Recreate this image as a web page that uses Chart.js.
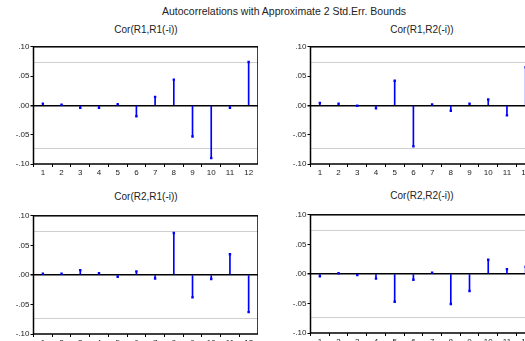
<!DOCTYPE html>
<html>
<head>
<meta charset="utf-8">
<script src="https://cdn.jsdelivr.net/npm/chart.js@4"></script>
<style>
  html, body { margin:0; padding:0; background:#fff; overflow:hidden; }
  body { width:525px; height:341px; position:relative; }
  .txt {
    position:absolute; text-align:center; white-space:nowrap;
    font:10px "Liberation Sans", Arial, sans-serif; color:#222;
  }
  .panel { position:absolute; }
</style>
</head>
<body>
<div class="txt" style="left:134px;top:5px;width:300px;font-size:10.5px">Autocorrelations with Approximate 2 Std.Err. Bounds</div>
<div class="txt" style="left:96px;top:24px;width:100px">Cor(R1,R1(-i))</div>
<div class="txt" style="left:372px;top:24px;width:100px">Cor(R1,R2(-i))</div>
<div class="txt" style="left:96px;top:191px;width:100px">Cor(R2,R1(-i))</div>
<div class="txt" style="left:372px;top:190px;width:100px">Cor(R2,R2(-i))</div>

<div class="panel" style="left:0;top:41px;width:258px;height:137px"><canvas id="c11"></canvas></div>
<div class="panel" style="left:277px;top:41px;width:258px;height:137px"><canvas id="c12"></canvas></div>
<div class="panel" style="left:0;top:210px;width:258px;height:138px"><canvas id="c21"></canvas></div>
<div class="panel" style="left:277px;top:209px;width:258px;height:138px"><canvas id="c22"></canvas></div>

<script>
// lags
const lags = ["1","2","3","4","5","6","7","8","9","10","11","12"];

// cross correlations
const corR1R1 = [0.003, 0.001, -0.004, -0.004, 0.002, -0.0185, 0.0145, 0.044, -0.053, -0.090, -0.004, 0.074];
const corR1R2 = [0.004, 0.003, -0.0005, -0.005, 0.042, -0.070, 0.0015, -0.009, 0.003, 0.010, -0.017, 0.065];
const corR2R1 = [0.002, 0.002, 0.008, 0.003, -0.003, 0.006, -0.006, 0.071, -0.038, -0.007, 0.035, -0.063];
const corR2R2 = [-0.004, 0.001, -0.002, -0.008, -0.047, -0.010, 0.002, -0.051, -0.029, 0.024, 0.008, 0.012];

// +/- 2 std.err. bound
const bound = 0.073;

const FONT = "'Liberation Sans', Arial, sans-serif";

// box round the plot area
const framePlugin = {
  id:'frame',
  afterDraw(chart){
    const a = chart.chartArea, c = chart.ctx;
    c.save();
    c.strokeStyle = '#000';
    c.lineWidth = 1.5;
    c.strokeRect(a.left, a.top, a.right - a.left, a.bottom - a.top);
    c.restore();
  }
};

function fmt(v){
  let s = Math.abs(v).toFixed(2).replace(/^0/, '');
  return (v < -1e-9 ? '-' : '') + s;
}

function isBound(v){ return Math.abs(Math.abs(v) - bound) < 1e-6; }

function makeChart(id, values){
  return new Chart(document.getElementById(id), {
    data:{
      labels: lags,
      datasets:[
        {
          type:'bar',
          data: values,
          backgroundColor:'#0000ff',
          borderWidth:0,
          barThickness:1
        },
        {
          type:'line',
          data: values,
          showLine:false,
          pointStyle:'rect',
          pointRadius:1.7,
          pointBackgroundColor:'#0000ff',
          pointBorderColor:'#0000ff',
          pointBorderWidth:0
        }
      ]
    },
    options:{
      responsive:true,
      maintainAspectRatio:false,
      animation:false,
      devicePixelRatio:1,
      layout:{ autoPadding:false, padding:0 },
      plugins:{
        legend:{ display:false },
        tooltip:{ enabled:false },
        title:{ display:false }
      },
      scales:{
        x:{
          type:'category',
          offset:true,
          grid:{
            offset:true,
            drawOnChartArea:false,
            drawTicks:true,
            tickLength:3,
            tickColor:'#000',
            lineWidth:1
          },
          border:{ display:false },
          ticks:{
            color:'#222',
            font:{ family:FONT, size:8 },
            padding:1,
            maxRotation:0,
            autoSkip:false
          },
          afterFit(s){ s.height = 14; }
        },
        y:{
          min:-0.1,
          max:0.1,
          afterBuildTicks(s){
            s.ticks = [-0.1, -bound, -0.05, 0, 0.05, bound, 0.1].map(v => ({value:v}));
          },
          grid:{
            drawTicks:true,
            tickLength:3,
            tickColor(ctx){
              const v = ctx.tick ? ctx.tick.value : 0;
              return isBound(v) ? 'rgba(0,0,0,0)' : '#000';
            },
            color(ctx){
              const v = ctx.tick ? ctx.tick.value : 0;
              if (Math.abs(v) < 1e-9) return '#000';
              if (isBound(v)) return '#cfcfcf';
              return 'rgba(0,0,0,0)';
            },
            lineWidth(ctx){
              const v = ctx.tick ? ctx.tick.value : 0;
              return Math.abs(v) < 1e-9 ? 1.5 : 1;
            }
          },
          border:{ display:false },
          ticks:{
            color:'#222',
            font:{ family:FONT, size:8 },
            padding:1,
            callback(v){
              return isBound(v) ? '' : fmt(v);
            }
          },
          afterFit(s){ s.width = 33.5; }
        }
      }
    },
    plugins:[framePlugin]
  });
}

makeChart('c11', corR1R1);
makeChart('c12', corR1R2);
makeChart('c21', corR2R1);
makeChart('c22', corR2R2);
</script>
</body>
</html>
